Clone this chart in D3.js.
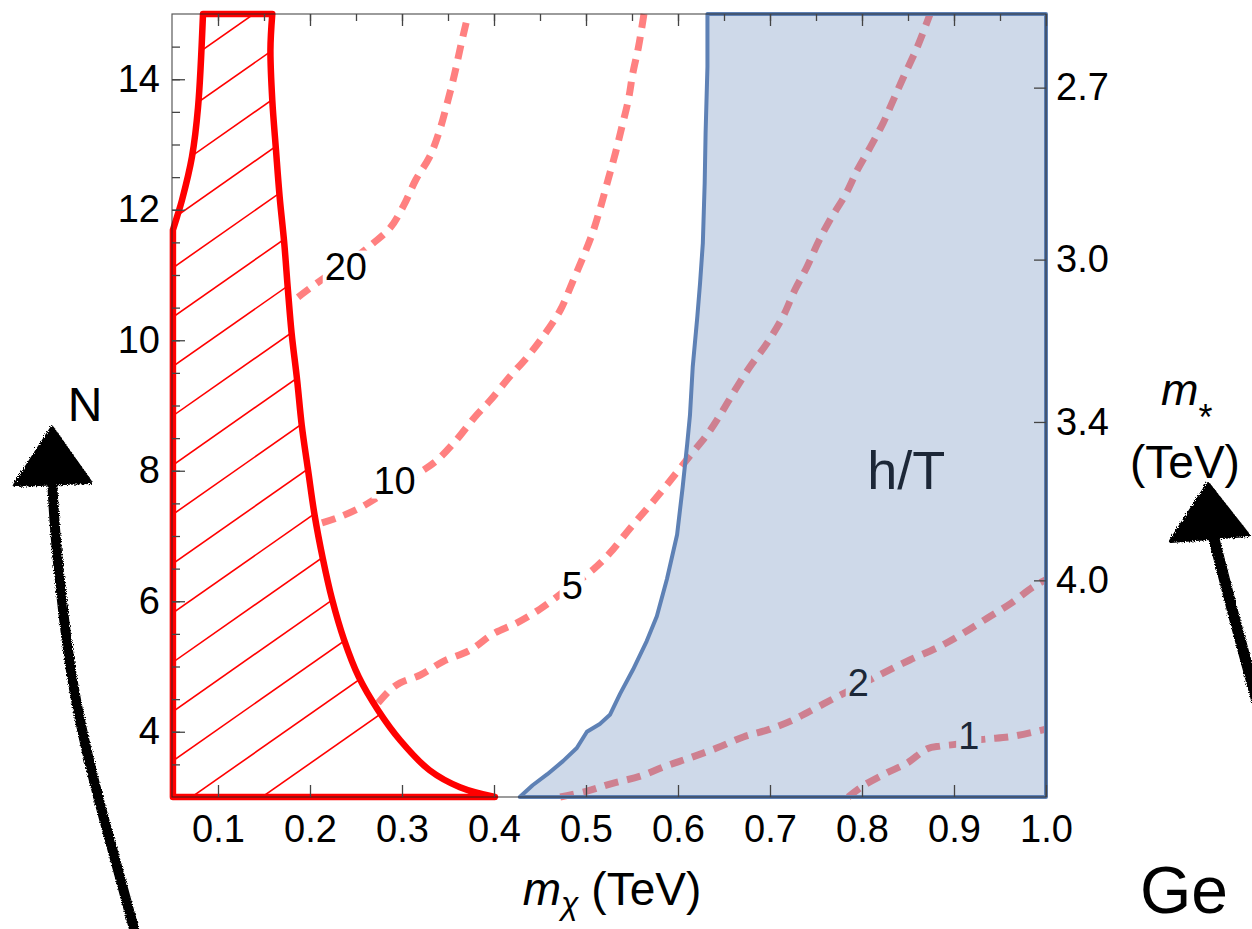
<!DOCTYPE html>
<html><head><meta charset="utf-8">
<script src="https://cdn.jsdelivr.net/npm/d3@7"></script>
<style>body{margin:0;background:#fff} svg{display:block} text{font-family:"Liberation Sans",Arial,sans-serif}</style>
</head><body><svg id="c" width="1252" height="929"></svg>
<script>
// ---- data ----
const xTicks = [0.1,0.2,0.3,0.4,0.5,0.6,0.7,0.8,0.9,1.0];
const xMinorTicks = [0.1,0.15,0.2,0.25,0.3,0.35,0.4,0.45,0.5,0.55,0.6,0.65,0.7,0.75,0.8,0.85,0.9,0.95];
const yTicks = [4,6,8,10,12,14];
const yMinorTicks = [3.5,4,4.5,5,5.5,6,6.5,7,7.5,8,8.5,9,9.5,10,10.5,11,11.5,12,12.5,13,13.5,14,14.5];
const mStarTicks = [2.7,3.0,3.4,4.0];
const mStarConst = 10.056; // N = (c / m*)^2

const contour20 = [[0.187,10.66],[0.214,10.94],[0.238,11.15],[0.268,11.48],[0.287,11.72],[0.302,12.07],[0.315,12.46],[0.330,12.81],[0.341,13.22],[0.350,13.68],[0.357,14.07],[0.364,14.52],[0.372,15.0]];
const contour10 = [[0.213,7.20],[0.230,7.28],[0.254,7.43],[0.287,7.71],[0.320,7.98],[0.338,8.16],[0.359,8.47],[0.379,8.82],[0.396,9.08],[0.417,9.44],[0.436,9.74],[0.453,10.05],[0.472,10.46],[0.485,10.88],[0.497,11.28],[0.507,11.64],[0.515,12.00],[0.524,12.46],[0.532,12.87],[0.539,13.27],[0.546,13.68],[0.551,14.10],[0.557,14.49],[0.563,15.0]];
const contour5 = [[0.274,4.44],[0.287,4.64],[0.298,4.75],[0.320,4.87],[0.345,5.08],[0.374,5.25],[0.399,5.50],[0.425,5.67],[0.450,5.88],[0.478,6.17],[0.508,6.49],[0.526,6.74],[0.548,7.12],[0.570,7.48],[0.591,7.84],[0.613,8.23],[0.632,8.56],[0.649,8.93],[0.660,9.19],[0.678,9.59],[0.697,9.96],[0.714,10.36],[0.727,10.77],[0.740,11.12],[0.752,11.49],[0.765,11.84],[0.782,12.23],[0.795,12.61],[0.809,12.96],[0.823,13.33],[0.834,13.68],[0.845,14.03],[0.860,14.49],[0.874,15.0]];
const contour2 = [[0.472,3.00],[0.501,3.09],[0.529,3.21],[0.559,3.32],[0.588,3.48],[0.613,3.60],[0.642,3.75],[0.671,3.92],[0.700,4.04],[0.725,4.18],[0.740,4.29],[0.768,4.50],[0.796,4.70],[0.823,4.90],[0.852,5.10],[0.885,5.31],[0.910,5.51],[0.936,5.74],[0.961,5.96],[0.986,6.22],[1.0,6.33]];
const contour1 = [[0.785,3.00],[0.801,3.17],[0.827,3.37],[0.849,3.52],[0.871,3.74],[0.885,3.78],[0.903,3.81],[0.917,3.86],[0.936,3.89],[0.964,3.93],[1.0,4.04]];
const contourLabels = ["20","10","5","2","1"];
const contourLabelPos = [[0.239,11.14],[0.292,7.86],[0.485,6.25],[0.796,4.75],[0.916,3.95]];

const hTBoundary = [[0.428,3.00],[0.442,3.18],[0.458,3.35],[0.475,3.55],[0.490,3.75],[0.501,4.00],[0.515,4.12],[0.526,4.26],[0.537,4.58],[0.551,4.95],[0.566,5.39],[0.577,5.77],[0.588,6.34],[0.599,7.02],[0.605,7.74],[0.610,8.41],[0.613,8.85],[0.616,9.59],[0.621,10.36],[0.624,10.88],[0.627,11.49],[0.629,12.41],[0.630,13.18],[0.632,14.19],[0.632,15.0]];
const hTCorners = [[1.0,15.0],[1.0,3.0]];
const hTLabelPos = [0.848,7.8];

const excludedLeft = [[0.051,3.0],[0.051,11.69],[0.0554,11.89],[0.0609,12.15],[0.0717,12.81],[0.0783,13.57],[0.0837,15.0]];
const excludedRight = [[0.159,15.0],[0.157,14.45],[0.159,13.68],[0.163,12.92],[0.167,12.20],[0.172,11.49],[0.176,10.77],[0.180,10.11],[0.186,9.39],[0.191,8.70],[0.198,8.00],[0.205,7.32],[0.214,6.65],[0.224,6.03],[0.237,5.41],[0.253,4.84],[0.274,4.33],[0.298,3.87],[0.330,3.41],[0.363,3.15],[0.401,3.00]];

// decorative hand-drawn arrows (annotation, pixel space)
const leftArrowShaft = [[137,940],[117,866],[100,805],[83,737],[70,670],[62,602],[55,535],[52,478]];
const leftArrowHead = [[52,428],[15,485],[90,482]];
const rightArrowShaft = [[1262,720],[1232,610],[1213,535]];
const rightArrowHead = [[1208,484],[1171,541],[1248,535]];

// ---- drawing ----
const svg = d3.select("#c");
const x = d3.scaleLinear().domain([0.05,1.0]).range([172,1046]);
const y = d3.scaleLinear().domain([3,15]).range([797,14]);
const mScale = d3.scalePow().exponent(-2)
  .domain([mStarConst/Math.sqrt(3), mStarConst/Math.sqrt(15)]).range([797,14]);

const smooth = d3.line().x(d=>x(d[0])).y(d=>y(d[1])).curve(d3.curveCatmullRom.alpha(0.5));
const lin = d3.line().x(d=>x(d[0])).y(d=>y(d[1]));

const defs = svg.append("defs");
const rough = defs.append("filter").attr("id","rough").attr("x","-20%").attr("y","-20%").attr("width","140%").attr("height","140%");
rough.append("feTurbulence").attr("type","fractalNoise").attr("baseFrequency",0.9).attr("numOctaves",2).attr("result","n");
rough.append("feDisplacementMap").attr("in","SourceGraphic").attr("in2","n").attr("scale",5);

// contours
const gC = svg.append("g");
[contour20,contour10,contour5,contour2,contour1].forEach(c=>{
  gC.append("path").attr("d",smooth(c)).attr("fill","none")
    .attr("stroke","rgb(255,128,128)").attr("stroke-width",7)
    .attr("stroke-dasharray","14,9");
});
contourLabels.forEach((lab,i)=>{
  const p = contourLabelPos[i];
  const t = gC.append("text").attr("x",x(p[0])).attr("y",y(p[1])).attr("dy","0.36em")
    .attr("text-anchor","middle").attr("font-size",38).attr("fill","#000").text(lab);
  const bb = t.node().getBBox();
  gC.insert("rect","text").attr("x",bb.x-2).attr("y",bb.y+5).attr("width",bb.width+4).attr("height",bb.height-8).attr("fill","#fff");
});

// h/T label (beneath the translucent region)
svg.append("text").attr("x",x(hTLabelPos[0])).attr("y",489).attr("text-anchor","middle")
  .attr("font-size",54).attr("fill","#000").text("h/T");

// blue excluded region
svg.append("path").attr("d",lin(hTBoundary.concat(hTCorners))+"Z")
  .attr("fill","rgb(94,129,181)").attr("fill-opacity",0.3)
  .attr("stroke","rgb(94,129,181)").attr("stroke-width",4).attr("stroke-linejoin","round");

// red hatched region
const redPath = lin([excludedLeft[0]]) +
  smooth(excludedLeft.slice(1)).replace(/^M/,"L") +
  smooth(excludedRight).replace(/^M/,"L") + "Z";
defs.append("clipPath").attr("id","redclip").append("path").attr("d",redPath);
const hatch = svg.append("g").attr("clip-path","url(#redclip)");
const slope = Math.tan(35*Math.PI/180), c0 = 734, step = 49.3;
d3.range(-12,6).forEach(k=>{
  const c = c0 + k*step;
  hatch.append("line").attr("x1",150).attr("y1",c-slope*150).attr("x2",520).attr("y2",c-slope*520)
    .attr("stroke","#ff0000").attr("stroke-width",1.6);
});
svg.append("path").attr("d",redPath).attr("fill","none")
  .attr("stroke","#ff0000").attr("stroke-width",6.5).attr("stroke-linejoin","round");

// frame
svg.append("rect").attr("x",172).attr("y",14).attr("width",1046-172).attr("height",797-14)
  .attr("fill","none").attr("stroke","#222").attr("stroke-opacity",0.75).attr("stroke-width",1.2);

function styleAxis(g){
  g.select(".domain").remove();
  g.selectAll(".tick line").attr("stroke","#444").attr("stroke-width",1.3);
  g.selectAll(".tick text").attr("font-size",38).attr("fill","#000").attr("font-family","Liberation Sans, Arial, sans-serif");
}
// bottom
svg.append("g").attr("transform","translate(0,797)")
  .call(d3.axisBottom(x).tickValues(xTicks).tickFormat(d3.format(".1f")).tickSize(-12).tickPadding(18))
  .call(styleAxis);
// top
svg.append("g").attr("transform","translate(0,14)")
  .call(d3.axisTop(x).tickValues(xMinorTicks).tickFormat("").tickSize(-7))
  .call(styleAxis);
svg.append("g").attr("transform","translate(0,14)")
  .call(d3.axisTop(x).tickValues(xTicks).tickFormat("").tickSize(-12))
  .call(styleAxis);
// left
svg.append("g").attr("transform","translate(172,0)")
  .call(d3.axisLeft(y).tickValues(yMinorTicks).tickFormat("").tickSize(-8))
  .call(styleAxis);
svg.append("g").attr("transform","translate(172,0)")
  .call(d3.axisLeft(y).tickValues(yTicks).tickSize(-13).tickPadding(12))
  .call(styleAxis);
// right
svg.append("g").attr("transform","translate(1046,0)")
  .call(d3.axisRight(mScale).tickValues(mStarTicks).tickFormat(d3.format(".1f")).tickSize(-12).tickPadding(10))
  .call(styleAxis);

// axis titles
const xl = svg.append("text").attr("x",612).attr("y",905).attr("text-anchor","middle").attr("font-size",46);
xl.append("tspan").attr("font-style","italic").text("m");
xl.append("tspan").attr("font-style","italic").attr("font-size",32).attr("dy",9).text("χ");
xl.append("tspan").attr("dy",-9).text(" (TeV)");

svg.append("text").attr("x",85).attr("y",421).attr("text-anchor","middle").attr("font-size",48).text("N");

const ml = svg.append("text").attr("x",1161).attr("y",405).attr("font-size",45);
ml.append("tspan").attr("font-style","italic").text("m");
ml.append("tspan").attr("font-size",36).attr("dy",25).text("*");
svg.append("text").attr("x",1130).attr("y",478).attr("font-size",46).text("(TeV)");

svg.append("text").attr("x",1140).attr("y",913).attr("font-size",66).text("Ge");

// arrows
const pline = d3.line().curve(d3.curveBasis);
const ga = svg.append("g").attr("filter","url(#rough)");
ga.append("path").attr("d",pline(leftArrowShaft)).attr("fill","none").attr("stroke","#000").attr("stroke-width",10).attr("stroke-linecap","round");
ga.append("path").attr("d",d3.line()(leftArrowHead)+"Z").attr("fill","#000").attr("stroke","#000").attr("stroke-width",4).attr("stroke-linejoin","round");
ga.append("path").attr("d",pline(rightArrowShaft)).attr("fill","none").attr("stroke","#000").attr("stroke-width",11).attr("stroke-linecap","round");
ga.append("path").attr("d",d3.line()(rightArrowHead)+"Z").attr("fill","#000").attr("stroke","#000").attr("stroke-width",4).attr("stroke-linejoin","round");
</script></body></html>
